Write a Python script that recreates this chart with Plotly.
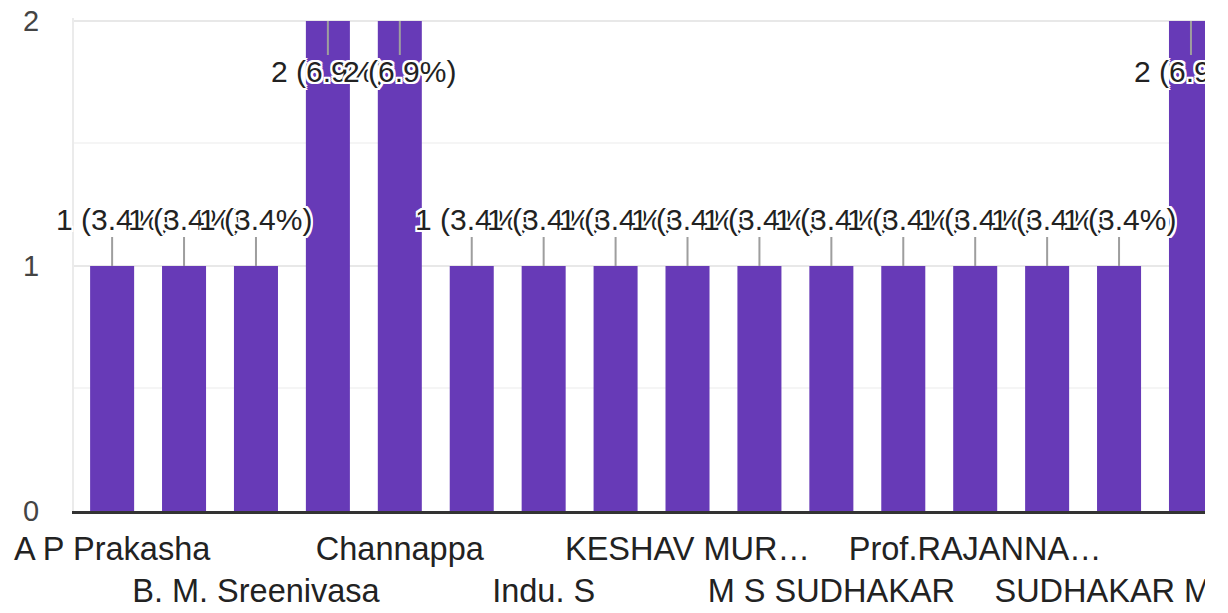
import plotly.graph_objects as go

# visible part of the responses chart (the chart continues past the right edge)
labels = ["A P Prakasha", "", "B. M. Sreenivasa", "", "Channappa", "", "Indu. S", "",
          "KESHAV MUR…", "", "M S SUDHAKAR", "", "Prof.RAJANNA…", "", "SUDHAKAR M…", "", "Sa…"]
counts = [1, 1, 1, 2, 2, 1, 1, 1, 1, 1, 1, 1, 1, 1, 1, 2, 1]
total_responses = 29
y_ticks = [0, 1, 2]

FONT = "Liberation Sans, Arial, sans-serif"
BAR_COLOR = "#673ab7"

positions = list(range(len(counts)))
shown = [i for i, name in enumerate(labels) if name]
# labels alternate between two rows like the original
tick_text = [labels[i] if k % 2 == 0 else "<br>" + labels[i] for k, i in enumerate(shown)]

fig = go.Figure(go.Bar(x=positions, y=counts,
                       marker=dict(color=BAR_COLOR, line=dict(width=0)),
                       hoverinfo="skip"))

halo = ", ".join(f"{dx}px {dy}px 0 #ffffff"
                 for dx in (-2, 0, 2) for dy in (-2, 0, 2) if dx or dy)
for x, c in zip(positions, counts):
    fig.add_annotation(x=x, y=c,
                       text=f"{c} ({100 * c / total_responses:.1f}%)",
                       showarrow=True, arrowhead=0, arrowwidth=2, arrowcolor="#9e9e9e",
                       ax=0, ay=-46 if c < max(y_ticks) else 51,
                       borderpad=0,
                       font=dict(family=FONT, size=30, color="#222222", shadow=halo))

# the page body adds 8px around the figure, so the figure is 8px smaller;
# y range goes a hair past 2 so plotly keeps the top gridline
fig.update_layout(
    width=1197, height=605,
    margin=dict(l=66, r=0, t=10, b=102),
    paper_bgcolor="white", plot_bgcolor="white",
    showlegend=False, bargap=0.388,
    font=dict(family=FONT),
    xaxis=dict(range=[-0.53, 15.195], tickmode="array", tickvals=shown, ticktext=tick_text,
               tickangle=0, showgrid=False, zeroline=False,
               showline=True, linecolor="#333333", linewidth=3,
               ticks="outside", ticklen=7, tickcolor="rgba(0,0,0,0)",
               ticklabeloverflow="allow",
               tickfont=dict(family=FONT, size=32.5, color="#222222"),
               automargin=False),
    yaxis=dict(range=[0, 2.012], tickmode="array", tickvals=y_ticks,
               showgrid=True, gridcolor="#e8e8e8", gridwidth=2, zeroline=False,
               showline=True, linecolor="#ebebeb", linewidth=2,
               ticks="outside", ticklen=27, tickcolor="rgba(0,0,0,0)",
               ticklabeloverflow="allow",
               tickfont=dict(family=FONT, size=29, color="#444444"),
               minor=dict(tickmode="linear", tick0=0, dtick=0.5, showgrid=True,
                          gridcolor="#f5f5f5", gridwidth=2),
               automargin=False),
)

fig.write_html("out.html")
